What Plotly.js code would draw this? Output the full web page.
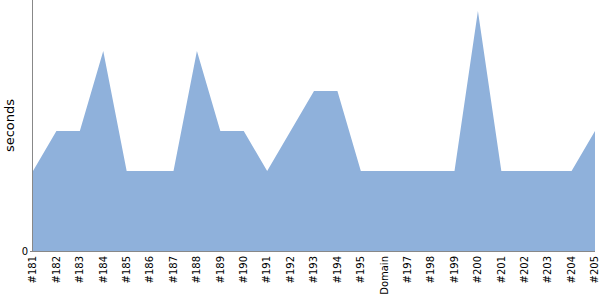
<!DOCTYPE html>
<html>
<head>
<meta charset="utf-8">
<script src="https://cdn.plot.ly/plotly-3.0.1.min.js"></script>
<style>html,body{margin:0;padding:0;background:#fff;}#chart{width:600px;height:300px;}</style>
</head>
<body>
<div id="chart"></div>
<script>
const builds = ["#181","#182","#183","#184","#185","#186","#187","#188","#189","#190","#191","#192","#193","#194","#195","Domain","#197","#198","#199","#200","#201","#202","#203","#204","#205"];
const seconds = [2,3,3,5,2,2,2,5,3,3,2,3,4,4,2,2,2,2,2,6,2,2,2,2,3];
const yTicks = [0];

Plotly.newPlot('chart', [{
  type: 'scatter',
  mode: 'lines',
  x: builds,
  y: seconds,
  fill: 'tozeroy',
  fillcolor: 'rgb(143,177,219)',
  line: {width: 0, color: 'rgb(143,177,219)'},
  hoverinfo: 'none'
}], {
  width: 600, height: 300,
  margin: {l: 33, r: 5, t: 0, b: 49},
  paper_bgcolor: '#fff', plot_bgcolor: '#fff',
  showlegend: false,
  font: {family: 'DejaVu Sans', size: 10, color: '#000'},
  xaxis: {
    type: 'category',
    range: [0, builds.length - 1],
    showline: true, linecolor: '#888', linewidth: 1,
    showgrid: false, zeroline: false,
    ticks: '', tickangle: -90,
    tickfont: {family: 'DejaVu Sans', size: 10, color: '#000'}
  },
  yaxis: {
    range: [0, 6.275],
    showline: true, linecolor: '#888', linewidth: 1,
    showgrid: false, zeroline: false,
    ticks: 'outside', ticklen: 2, tickcolor: '#888',
    tickvals: yTicks, ticktext: yTicks.map(String),
    tickfont: {family: 'DejaVu Sans', size: 10, color: '#000'},
    title: {text: 'seconds', font: {family: 'DejaVu Sans', size: 13, color: '#000'}, standoff: 4}
  }
}, {displayModeBar: false, staticPlot: true});
</script>
</body>
</html>
